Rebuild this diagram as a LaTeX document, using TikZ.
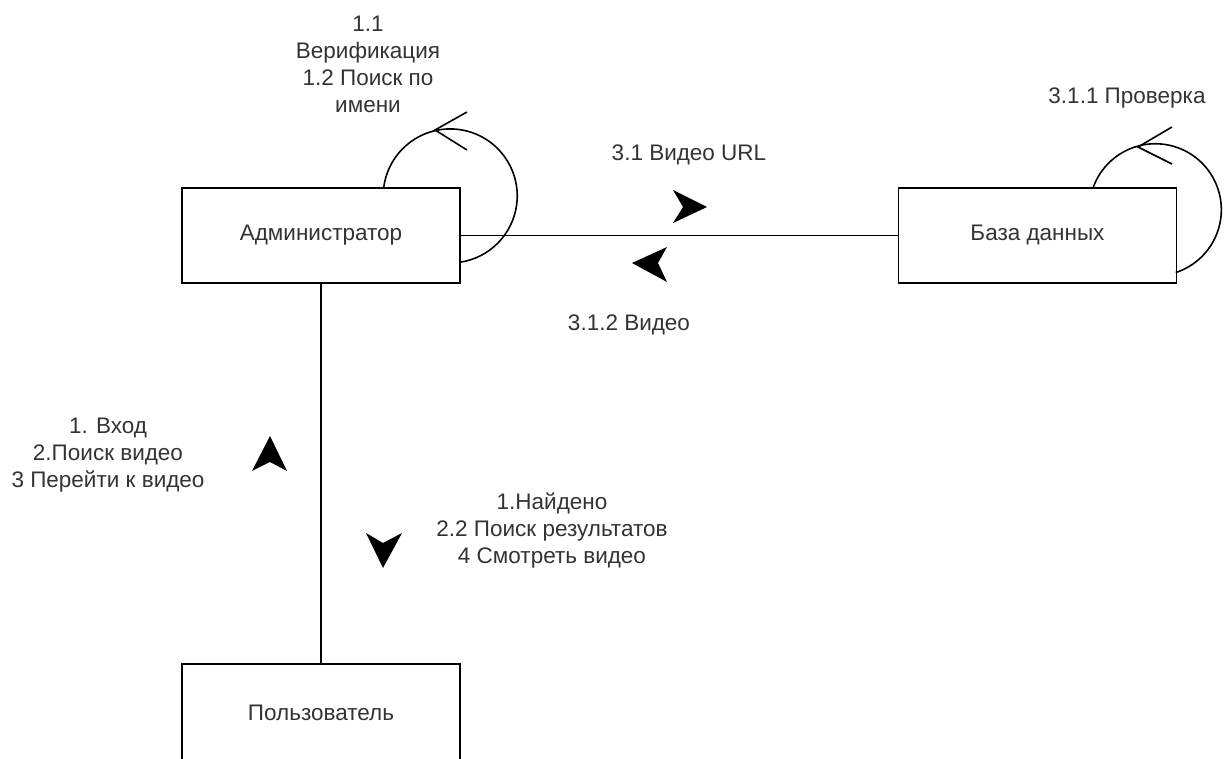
\documentclass[tikz,border=0pt]{standalone}
\usepackage{fontspec}
\setmainfont{Liberation Sans}
\definecolor{txt}{HTML}{333333}
\begin{document}
\begin{tikzpicture}[x=1pt,y=1pt,
  box/.style={draw, line width=1.6pt, minimum width=278pt, minimum height=95pt, inner sep=0pt, font=\fontsize{22.5}{27}\selectfont, text=txt},
  lbl/.style={align=center, font=\fontsize{22.5}{27}\selectfont, text=txt, inner sep=0pt},
  wire/.style={line width=1.6pt},
  tipfill/.style={fill=black}
]
\useasboundingbox (0,0) rectangle (1232,758);
\fill[white] (0,0) rectangle (1232,758);

\node[box] (admin) at (321,522.5) {Администратор};
\node[box] (db) at (1037.5,522.5) {База данных};
\node[box, minimum height=98pt] (user) at (321,45) {Пользователь};

\draw[wire] (admin.east) -- (db.west);
\draw[wire] (admin.south) -- (user.north);

% self loops
\draw[wire] ([xshift=-77pt]admin.north east) arc[start angle=172.5, end angle=-82, radius=67pt];
\draw[wire] (467,646) -- (435,628) -- (467,608);
\draw[wire] ([xshift=-84pt]db.north east) arc[start angle=160, end angle=-72, radius=66pt];
\draw[wire] (1172,631) -- (1138,611) -- (1172,594);

% direction markers
\fill[tipfill] (707,551) -- (673,568) -- (683,551) -- (673,535) -- cycle;
\fill[tipfill] (632,495) -- (667,511) -- (658,495) -- (667,476) -- cycle;
\fill[tipfill] (270,322) -- (252,287) -- (270,296) -- (287,287) -- cycle;
\fill[tipfill] (383,190) -- (366,225) -- (383,215) -- (402,225) -- cycle;

% labels
\node[lbl] (l11) at (368,694) {1.1\\Верификация\\1.2 Поиск по\\имени};
\node[lbl] (l31) at (689,603) {3.1 Видео URL};
\node[lbl] (l312) at (629,433) {3.1.2 Видео};
\node[lbl] (l311) at (1127,660) {3.1.1 Проверка};
\node[lbl] (lin) at (108,303) {1. Вход\\2.Поиск видео\\3 Перейти к видео};
\node[lbl] (lout) at (552,228) {1.Найдено\\2.2 Поиск результатов\\4 Смотреть видео};
\end{tikzpicture}
\end{document}
